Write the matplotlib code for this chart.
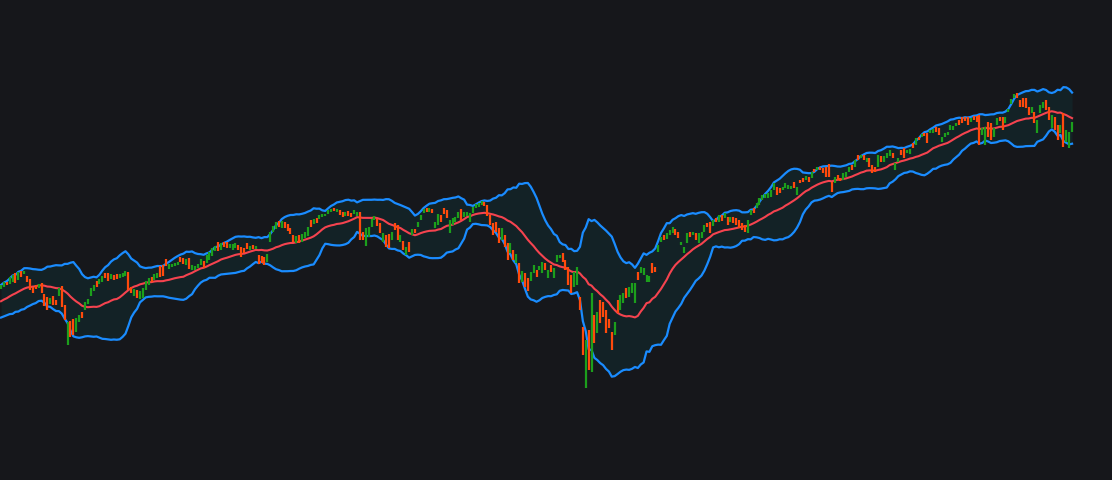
"""Candles with Bollinger bands (20, 2) on a dark background"""

import numpy as np
import pandas as pd
from matplotlib import pyplot as plt


BG = '#16171b'
UP = '#1c9f1c'
DOWN = '#ff4a0c'
BAND = '#1a8cff'
MID = '#f5434f'
FILL = '#132226'
WINDOW = 20  # bollinger period

# closes before the first visible bar, only used for the bands
pre_close = [3484, 3488, 3486, 3492, 3490, 3495, 3493, 3498, 3496, 3500,
             3498, 3503, 3500, 3505, 3502, 3507, 3505, 3510, 3508]

open_ = [
    3511, 3513, 3518, 3516, 3518, 3527, 3520, 3529, 3526, 3524,
    3521, 3513, 3515, 3512, 3517, 3506, 3503, 3496, 3504, 3500,
    3504, 3514, 3495, 3455, 3479, 3481, 3468, 3478, 3488, 3490,
    3496, 3504, 3509, 3519, 3516, 3518, 3527, 3527, 3521, 3525,
    3526, 3522, 3523, 3524, 3528, 3513, 3504, 3510, 3501, 3502,
    3510, 3515, 3523, 3520, 3522, 3534, 3535, 3541, 3531, 3533,
    3534, 3535, 3543, 3542, 3535, 3542, 3530, 3530, 3532, 3535,
    3539, 3537, 3540, 3544, 3549, 3558, 3550, 3558, 3558, 3552,
    3550, 3552, 3555, 3553, 3552, 3557, 3550, 3555, 3551, 3545,
    3544, 3543, 3538, 3558, 3568, 3571, 3579, 3572, 3578, 3576,
    3572, 3565, 3557, 3565, 3558, 3562, 3564, 3580, 3576, 3582,
    3581, 3583, 3584, 3586, 3588, 3592, 3588, 3590, 3588, 3584,
    3589, 3587, 3586, 3584, 3588, 3568, 3554, 3563, 3573, 3580,
    3581, 3577, 3558, 3565, 3566, 3560, 3577, 3575, 3558, 3559,
    3545, 3558, 3565, 3571, 3573, 3580, 3587, 3592, 3588, 3591,
    3572, 3575, 3585, 3592, 3590, 3567, 3575, 3578, 3582, 3591,
    3583, 3584, 3578, 3587, 3592, 3593, 3595, 3598, 3595, 3585,
    3577, 3578, 3572, 3560, 3565, 3557, 3547, 3550, 3537, 3537,
    3518, 3527, 3522, 3519, 3527, 3530, 3530, 3527, 3537, 3522,
    3535, 3522, 3538, 3542, 3547, 3540, 3533, 3525, 3513, 3515,
    3503, 3473, 3412, 3470, 3428, 3485, 3467, 3500, 3498, 3490,
    3481, 3468, 3465, 3500, 3490, 3497, 3512, 3503, 3507, 3497,
    3528, 3527, 3525, 3518, 3518, 3537, 3533, 3548, 3558, 3565,
    3561, 3565, 3567, 3571, 3568, 3555, 3547, 3557, 3568, 3565,
    3567, 3557, 3562, 3568, 3577, 3578, 3574, 3582, 3578, 3585,
    3582, 3583, 3578, 3583, 3582, 3580, 3577, 3575, 3567, 3585,
    3592, 3592, 3595, 3600, 3602, 3602, 3603, 3610, 3613, 3612,
    3610, 3612, 3611, 3611, 3618, 3605, 3620, 3622, 3620, 3623,
    3622, 3631, 3630, 3633, 3632, 3633, 3636, 3618, 3617, 3625,
    3622, 3620, 3623, 3628, 3635, 3633, 3645, 3642, 3645, 3638,
    3642, 3635, 3633, 3633, 3644, 3638, 3642, 3644, 3647, 3630,
    3638, 3650, 3652, 3647, 3646, 3657, 3655, 3663, 3663, 3667,
    3667, 3667, 3667, 3673, 3672, 3658, 3663, 3665, 3670, 3670,
    3674, 3680, 3683, 3683, 3683, 3678, 3684, 3684, 3685, 3665,
    3655, 3678, 3677, 3663, 3675, 3683, 3683, 3677, 3688, 3696,
    3702, 3707, 3700, 3702, 3702, 3693, 3687, 3688, 3667, 3687,
    3692, 3700, 3693, 3672, 3683, 3675, 3667, 3687, 3658, 3652, 3668,
]

close = [
    3515, 3518, 3515, 3523, 3525, 3517, 3528, 3523, 3529, 3518,
    3510, 3507, 3511, 3516, 3507, 3494, 3490, 3502, 3495, 3495,
    3512, 3493, 3480, 3478, 3463, 3465, 3482, 3485, 3482, 3498,
    3501, 3512, 3515, 3513, 3521, 3524, 3522, 3519, 3526, 3520,
    3521, 3526, 3527, 3529, 3510, 3507, 3511, 3502, 3509, 3512,
    3519, 3522, 3518, 3526, 3527, 3523, 3524, 3534, 3536, 3536,
    3537, 3538, 3538, 3536, 3541, 3531, 3535, 3534, 3536, 3541,
    3532, 3545, 3548, 3552, 3554, 3549, 3557, 3553, 3552, 3556,
    3556, 3557, 3550, 3543, 3547, 3551, 3554, 3551, 3554, 3536,
    3537, 3535, 3546, 3568, 3574, 3578, 3573, 3579, 3572, 3569,
    3566, 3558, 3564, 3557, 3566, 3568, 3573, 3573, 3581, 3577,
    3585, 3586, 3586, 3590, 3591, 3589, 3591, 3585, 3583, 3588,
    3584, 3583, 3590, 3588, 3560, 3560, 3572, 3573, 3581, 3584,
    3574, 3567, 3567, 3553, 3552, 3568, 3570, 3560, 3565, 3550,
    3553, 3548, 3571, 3567, 3578, 3585, 3591, 3588, 3592, 3587,
    3578, 3586, 3578, 3586, 3582, 3580, 3582, 3583, 3588, 3580,
    3588, 3588, 3587, 3593, 3596, 3597, 3599, 3594, 3584, 3575,
    3565, 3568, 3557, 3572, 3553, 3540, 3557, 3540, 3546, 3517,
    3529, 3513, 3509, 3528, 3535, 3523, 3534, 3538, 3530, 3530,
    3528, 3532, 3545, 3545, 3538, 3530, 3515, 3507, 3528, 3533,
    3490, 3445, 3460, 3430, 3507, 3457, 3488, 3477, 3483, 3467,
    3472, 3450, 3478, 3487, 3505, 3507, 3502, 3513, 3517, 3517,
    3520, 3533, 3532, 3525, 3524, 3527, 3528, 3555, 3563, 3560,
    3567, 3570, 3573, 3565, 3562, 3558, 3553, 3567, 3563, 3568,
    3560, 3567, 3568, 3575, 3573, 3567, 3580, 3578, 3585, 3579,
    3587, 3575, 3583, 3577, 3575, 3572, 3570, 3568, 3580, 3590,
    3587, 3597, 3602, 3605, 3606, 3607, 3610, 3617, 3605, 3607,
    3613, 3617, 3615, 3614, 3612, 3613, 3617, 3618, 3624, 3618,
    3628, 3628, 3633, 3630, 3627, 3623, 3623, 3608, 3623, 3620,
    3619, 3627, 3628, 3633, 3630, 3640, 3640, 3645, 3640, 3642,
    3633, 3627, 3628, 3645, 3638, 3644, 3647, 3650, 3642, 3637,
    3642, 3645, 3642, 3650, 3651, 3652, 3662, 3660, 3666, 3664,
    3657, 3670, 3671, 3668, 3665, 3663, 3667, 3668, 3675, 3674,
    3677, 3675, 3677, 3679, 3675, 3682, 3680, 3678, 3655, 3672,
    3673, 3663, 3660, 3672, 3682, 3679, 3670, 3683, 3691, 3701,
    3706, 3702, 3693, 3693, 3692, 3685, 3693, 3677, 3680, 3695,
    3698, 3690, 3680, 3685, 3670, 3660, 3675, 3653, 3670, 3668, 3678,
]


# bollinger bands
closes = pd.Series(pre_close + close, dtype=float)
mid = closes.rolling(WINDOW).mean()
std = closes.rolling(WINDOW).std(ddof=0)
n0 = len(pre_close)
mid_v = mid.iloc[n0:].to_numpy()
upper = (mid + 2 * std).iloc[n0:].to_numpy()
lower = (mid - 2 * std).iloc[n0:].to_numpy()

o = np.array(open_, dtype=float)
c = np.array(close, dtype=float)
x = np.arange(len(c))
colors = np.where(c >= o, UP, DOWN)

fig = plt.figure(figsize=(11.12, 4.8), dpi=100, facecolor=BG)
ax = fig.add_axes([0, 0, 1, 1])
ax.set_facecolor(BG)

ax.fill_between(x, lower, upper, color=FILL, lw=0, zorder=1)
ax.plot(x, upper, color=BAND, lw=1.6, zorder=2)
ax.plot(x, lower, color=BAND, lw=1.6, zorder=2)
ax.plot(x, mid_v, color=MID, lw=1.5, zorder=2)
ax.vlines(x, o, c, colors=colors, linewidth=1.6, zorder=3)

ax.set_xlim(-0.35, 383.8)
ax.set_ylim(3320, 3800)
ax.axis('off')

fig.savefig('out.png', dpi=100, facecolor=BG)
